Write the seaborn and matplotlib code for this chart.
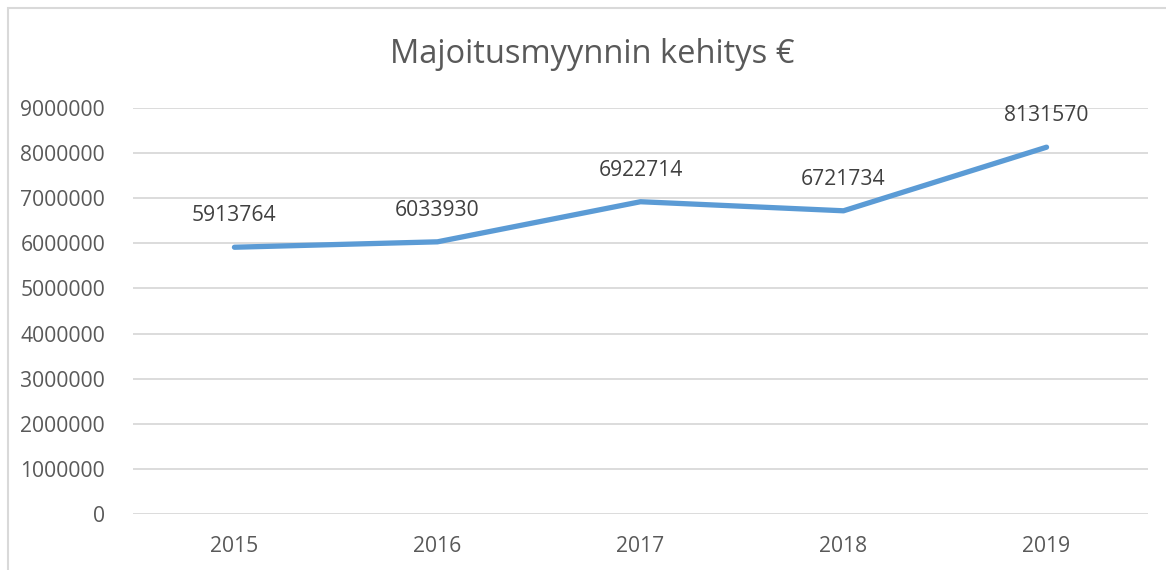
import matplotlib
matplotlib.use("Agg")
import matplotlib.pyplot as plt
import seaborn as sns
import pandas as pd
from matplotlib.patches import Rectangle

# chart data
years = ["2015", "2016", "2017", "2018", "2019"]
sales = [5913764, 6033930, 6922714, 6721734, 8131570]
y_ticks = [0, 1000000, 2000000, 3000000, 4000000, 5000000, 6000000, 7000000, 8000000, 9000000]

df = pd.DataFrame({"year": years, "sales": sales})

sns.set_style("white")
plt.rcParams["font.family"] = ["Open Sans", "DejaVu Sans"]

text_color = "#595959"
grid_color = "#D9D9D9"
line_color = "#5B9BD5"

fig = plt.figure(figsize=(11.66, 5.70), dpi=100)
ax = fig.add_axes([0.114, 0.0982, 0.8706, 0.7123])

sns.lineplot(data=df, x="year", y="sales", ax=ax, color=line_color,
             linewidth=3.8, sort=False, solid_capstyle="round")

ax.set_xlim(-0.5, len(years) - 0.5)
ax.set_ylim(0, 9000000)
ax.set_yticks(y_ticks)
ax.set_yticklabels([str(v) for v in y_ticks])
ax.yaxis.grid(True, color=grid_color, linewidth=1.3)
ax.set_axisbelow(True)
for s in ax.spines.values():
    s.set_visible(False)
ax.tick_params(axis="both", length=0, labelsize=15.2, labelcolor=text_color)
ax.tick_params(axis="y", pad=20)
ax.tick_params(axis="x", pad=16)
ax.set_xlabel("")
ax.set_ylabel("")

# data labels above points
for i, v in enumerate(sales):
    ax.annotate(str(v), (i, v), xytext=(0, 22.5), textcoords="offset points",
                ha="center", va="center", fontsize=15.2, color="#404040")

fig.text(0.508, 0.905, "Majoitusmyynnin kehitys €", ha="center", va="center",
         fontsize=23.5, color=text_color)

# chart area frame (partly cropped in the original)
fig.patches.append(Rectangle((8 / 1166, -0.1), 1.2, 1 - 8 / 570 + 0.1,
                             transform=fig.transFigure, fill=False,
                             edgecolor="#D9D9D9", linewidth=1.5))

fig.savefig("out.png", dpi=100)
